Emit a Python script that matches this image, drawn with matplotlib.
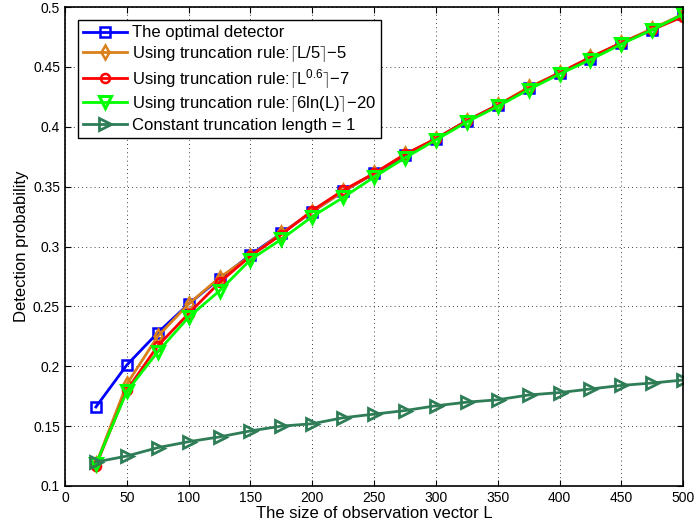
import matplotlib
matplotlib.use('Agg')
import matplotlib.pyplot as plt

# valores
L = [25, 50, 75, 100, 125, 150, 175, 200, 225, 250, 275, 300,
     325, 350, 375, 400, 425, 450, 475, 500]
optimal = [0.166, 0.201, 0.228, 0.252, 0.273, 0.293, 0.311, 0.329, 0.346, 0.361, 0.376, 0.390,
           0.405, 0.418, 0.432, 0.445, 0.457, 0.470, 0.481, 0.494]
rule_l5 = [0.118, 0.185, 0.225, 0.252, 0.274, 0.292, 0.311, 0.329, 0.346, 0.361, 0.377, 0.390,
           0.405, 0.418, 0.433, 0.445, 0.458, 0.470, 0.482, 0.494]
rule_l06 = [0.117, 0.180, 0.217, 0.244, 0.270, 0.292, 0.310, 0.330, 0.347, 0.361, 0.377, 0.390,
            0.405, 0.418, 0.432, 0.445, 0.458, 0.470, 0.481, 0.492]
rule_ln = [0.118, 0.179, 0.212, 0.241, 0.263, 0.289, 0.306, 0.325, 0.341, 0.358, 0.374, 0.389,
           0.404, 0.417, 0.431, 0.444, 0.456, 0.469, 0.481, 0.494]
const1 = [0.120, 0.125, 0.132, 0.137, 0.141, 0.146, 0.150, 0.152, 0.157, 0.160, 0.163, 0.167,
          0.170, 0.172, 0.176, 0.178, 0.181, 0.184, 0.186, 0.1885]

labels = ['The optimal detector',
          r'Using truncation rule:$\lceil$L/5$\rceil$$-$5',
          r'Using truncation rule:$\lceil$L$^{0.6}\rceil$$-$7',
          r'Using truncation rule:$\lceil$6ln(L)$\rceil$$-$20',
          'Constant truncation length = 1']

plt.rcParams['font.family'] = ['Liberation Sans', 'DejaVu Sans']
plt.rcParams['mathtext.fontset'] = 'custom'
plt.rcParams['mathtext.rm'] = 'Liberation Sans'
plt.rcParams['mathtext.it'] = 'Liberation Sans'

fig = plt.figure(figsize=(6.95, 5.27), dpi=100)
ax = fig.add_axes([0.0935, 0.0778, 0.8895, 0.9089])

ax.plot(L, optimal, color='#0000ff', lw=2, marker='s', ms=6.5, mfc='none', mew=1.8, label=labels[0])
ax.plot(L, rule_l5, color='#d9801a', lw=2, marker='d', ms=7.5, mfc='none', mew=1.8, label=labels[1])
ax.plot(L, rule_l06, color='#ff0000', lw=2, marker='o', ms=6.5, mfc='none', mew=1.8, label=labels[2])
ax.plot(L, rule_ln, color='#00ff00', lw=2, marker='v', ms=8.5, mfc='none', mew=2.2, label=labels[3])
ax.plot(L, const1, color='#2e7d57', lw=2, marker='>', ms=8.5, mfc='none', mew=2, label=labels[4])

ax.set_xlim(0, 500)
ax.set_ylim(0.1, 0.5)
ax.set_xticks(range(0, 501, 50))
ax.set_yticks([0.1, 0.15, 0.2, 0.25, 0.3, 0.35, 0.4, 0.45, 0.5])
ax.set_yticklabels(['0.1', '0.15', '0.2', '0.25', '0.3', '0.35', '0.4', '0.45', '0.5'])
ax.tick_params(direction='in', top=True, right=True, labelsize=10, length=4)
ax.grid(True, color='black', linestyle=(0, (1, 4)), linewidth=0.6)
for s in ax.spines.values():
    s.set_linewidth(1.2)

ax.set_xlabel('The size of observation vector L', fontsize=12, labelpad=1)
ax.set_ylabel('Detection probability', fontsize=12, labelpad=3)

leg = ax.legend(loc='upper left', fontsize=12, fancybox=False, framealpha=1,
                edgecolor='black', borderaxespad=0.8, handlelength=2.6,
                labelspacing=0.2, borderpad=0.3, handletextpad=0.3)
leg.get_frame().set_linewidth(1.0)

fig.savefig('out.png', dpi=100)
